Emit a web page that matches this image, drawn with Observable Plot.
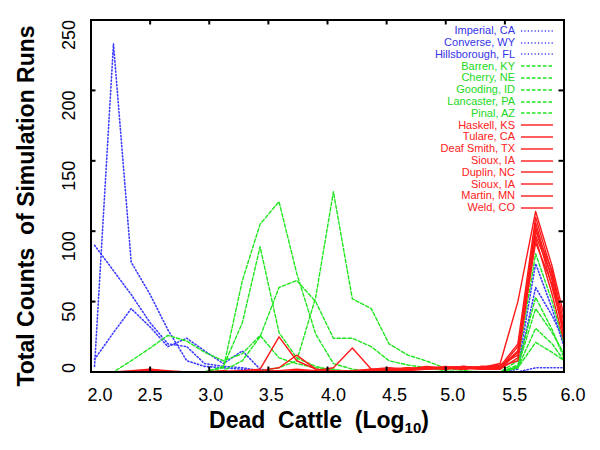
<!DOCTYPE html>
<html>
<head>
<meta charset="utf-8">
<script src="https://cdn.jsdelivr.net/npm/d3@7"></script>
<script src="https://cdn.jsdelivr.net/npm/@observablehq/plot@0.6"></script>
<style>
  html, body { margin: 0; padding: 0; background: #fff; }
  #wrap { position: relative; width: 600px; height: 450px; font-family: "Liberation Sans", Arial, sans-serif; }
  #xtitle { position: absolute; left: 0; width: 638px; top: 407px; text-align: center; font-weight: bold; font-size: 23px; white-space: pre; color: #000; }
  #xtitle sub { font-size: 15px; vertical-align: -5px; line-height: 0; }
  .lg { position: absolute; font-size: 11px; white-space: pre; line-height: 12px; }
</style>
</head>
<body>
<div id="wrap"></div>
<script>
// ---- data ----
const xs = [2.03, 2.19, 2.34, 2.50, 2.65, 2.81, 2.96, 3.12, 3.28, 3.43, 3.59, 3.74, 3.90, 4.05, 4.21, 4.37, 4.52, 4.68, 4.83, 4.99, 5.15, 5.30, 5.46, 5.61, 5.76, 5.90, 6.00];
const xTicks = [2.0, 2.5, 3.0, 3.5, 4.0, 4.5, 5.0, 5.5, 6.0];
const yTicks = [0, 50, 100, 150, 200, 250];
const countyNames = ["Imperial, CA", "Converse, WY", "Hillsborough, FL", "Barren, KY", "Cherry, NE", "Gooding, ID", "Lancaster, PA", "Pinal, AZ", "Haskell, KS", "Tulare, CA", "Deaf Smith, TX", "Sioux, IA", "Duplin, NC", "Sioux, IA", "Martin, MN", "Weld, CO"];
const countyGroups = ["blue", "blue", "blue", "green", "green", "green", "green", "green", "red", "red", "red", "red", "red", "red", "red", "red"];

// blue (dotted)
const imperialCA     = [90, 72, 55, 35, 20, 18, 6, 4, 3, 1, 0, 0, 0, 0, 0, 0, 0, 0, 0, 0, 0, 0, 0, 2, 60, 40, 22];
const converseWY     = [4, 233, 78, 55, 30, 8, 4, 3, 2, 1, 0, 0, 0, 0, 0, 0, 0, 0, 0, 0, 0, 0, 0, 3, 77, 45, 18];
const hillsboroughFL = [9, 28, 45, 32, 18, 24, 15, 6, 15, 2, 0, 0, 0, 0, 0, 0, 0, 0, 0, 0, 0, 0, 0, 0, 3, 3, 3];
// green (dashed)
const barrenKY       = [0, 0, 0, 0, 0, 0, 0, 3, 65, 105, 121, 70, 27, 6, 2, 0, 0, 0, 0, 0, 0, 0, 0, 8, 84, 50, 20];
const cherryNE       = [0, 0, 0, 0, 0, 0, 0, 4, 35, 89, 28, 10, 4, 1, 0, 0, 0, 0, 0, 0, 0, 0, 0, 4, 45, 28, 13];
const goodingID      = [0, 0, 0, 0, 0, 0, 0, 0, 0, 1, 3, 8, 53, 128, 52, 45, 20, 12, 8, 3, 1, 0, 0, 5, 53, 30, 10];
const lancasterPA    = [0, 0, 0, 0, 0, 0, 0, 1, 8, 25, 60, 65, 50, 24, 24, 18, 8, 5, 3, 1, 0, 0, 0, 3, 21, 14, 8];
const pinalAZ        = [0, 0, 8, 17, 26, 22, 14, 8, 13, 26, 10, 6, 3, 2, 0, 0, 0, 0, 0, 0, 0, 0, 0, 3, 31, 20, 8];
// red (solid)
const haskellKS      = [0, 0, 1, 2, 1, 0, 0, 0, 1, 2, 25, 8, 2, 0, 1, 1, 2, 1, 3, 2, 4, 3, 6, 50, 114, 75, 40];
const tulareCA       = [0, 0, 0, 1, 0, 0, 0, 1, 0, 1, 3, 12, 2, 1, 0, 2, 1, 3, 2, 3, 2, 4, 4, 20, 110, 70, 30];
const deafSmithTX    = [0, 0, 0, 1, 0, 0, 0, 0, 1, 0, 1, 2, 1, 3, 17, 2, 1, 2, 3, 2, 3, 2, 3, 15, 106, 65, 25];
const siouxIA1       = [0, 0, 0, 2, 0, 0, 0, 0, 0, 1, 0, 1, 1, 0, 1, 2, 3, 2, 4, 3, 2, 3, 5, 12, 103, 60, 28];
const duplinNC       = [0, 0, 0, 1, 0, 0, 0, 0, 0, 0, 1, 0, 0, 1, 0, 1, 2, 3, 2, 4, 3, 2, 2, 10, 100, 72, 35];
const siouxIA2       = [0, 0, 0, 1, 0, 0, 0, 0, 0, 0, 0, 1, 0, 0, 1, 0, 1, 2, 3, 3, 4, 3, 3, 18, 97, 68, 25];
const martinMN       = [0, 0, 0, 1, 0, 0, 0, 0, 0, 0, 0, 0, 1, 0, 0, 1, 2, 1, 2, 3, 2, 4, 4, 8, 95, 55, 22];
const weldCO         = [0, 0, 0, 1, 0, 0, 0, 0, 0, 0, 0, 0, 0, 1, 0, 0, 1, 2, 2, 3, 4, 3, 2, 14, 92, 62, 30];

const seriesValues = [imperialCA, converseWY, hillsboroughFL, barrenKY, cherryNE, goodingID, lancasterPA, pinalAZ,
  haskellKS, tulareCA, deafSmithTX, siouxIA1, duplinNC, siouxIA2, martinMN, weldCO];

// ---- styles ----
const style = {
  blue:  {stroke: "#3c3cff", strokeDasharray: "1.2,2.2", strokeWidth: 1.6, text: "#3434e8"},
  green: {stroke: "#1fe61f", strokeDasharray: "3.5,2", strokeWidth: 1.4, text: "#22d822"},
  red:   {stroke: "#ff1a1a", strokeDasharray: null, strokeWidth: 1.4, text: "#ff2020"}
};
const xLabelNudge = [9, 0, 1.5, 3, 6, 8, 7, 10, 9];

const rows = [];
seriesValues.forEach((vals, s) => vals.forEach((v, i) => rows.push({x: xs[i], y: v, id: s, name: countyNames[s], group: countyGroups[s]})));

const W = 600, H = 450, mL = 90.5, mR = 36.5, mT = 19.5, mB = 78.5;
const innerW = W - mL - mR, innerH = H - mT - mB;

const lineMarks = ["blue", "green", "red"].map(g => Plot.line(rows.filter(r => r.group === g), {
  x: "x", y: "y", z: "id", stroke: style[g].stroke, strokeWidth: style[g].strokeWidth,
  strokeDasharray: style[g].strokeDasharray, clip: true, strokeLinejoin: "round"
}));

const chart = Plot.plot({
  width: W, height: H,
  marginLeft: mL, marginRight: mR, marginTop: mT, marginBottom: mB,
  style: {fontFamily: "'Liberation Sans', Arial, sans-serif", background: "white", overflow: "visible"},
  x: {domain: [2, 6], axis: null},
  y: {domain: [0, 250], axis: null},
  marks: [
    ...lineMarks,
    Plot.frame({stroke: "black", strokeWidth: 2}),
    Plot.tickX(xTicks, {x: d => d, insetTop: innerH - 5, stroke: "black", strokeWidth: 2}),
    Plot.tickX(xTicks, {x: d => d, insetBottom: innerH - 5, stroke: "black", strokeWidth: 2}),
    Plot.tickY(yTicks, {y: d => d, insetRight: innerW - 5, stroke: "black", strokeWidth: 2}),
    Plot.tickY(yTicks, {y: d => d, insetLeft: innerW - 5, stroke: "black", strokeWidth: 2}),
    ...xTicks.map((t, i) => Plot.text([t], {x: d => d, text: d => d.toFixed(1), frameAnchor: "bottom",
      lineAnchor: "top", dy: 16.5, dx: xLabelNudge[i], fontSize: 18, fill: "black"})),
    Plot.text(yTicks.filter(v => v > 0), {y: d => d, text: d => String(d), frameAnchor: "left", dx: -22,
      rotate: -90, textAnchor: "end", lineAnchor: "middle", fontSize: 18, fill: "black"}),
    Plot.text(yTicks.filter(v => v === 0), {y: d => d, text: d => String(d), frameAnchor: "left", dx: -22, dy: -4,
      rotate: -90, textAnchor: "middle", lineAnchor: "middle", fontSize: 18, fill: "black"}),
    Plot.text(["Total Counts \u00a0of Simulation Runs"], {frameAnchor: "left", dx: -64, dy: 10, rotate: -90,
      textAnchor: "middle", fontSize: 23, fontWeight: "bold", fill: "black", lineAnchor: "middle"})
  ]
});

const wrap = document.getElementById("wrap");
wrap.appendChild(chart);

// x-axis title with subscript
const xt = document.createElement("div");
xt.id = "xtitle";
xt.innerHTML = "Dead \u00a0Cattle \u00a0(Log<sub>10</sub>)";
wrap.appendChild(xt);

// legend (gnuplot-style key, inside top right)
countyNames.forEach((n, i) => {
  const g = countyGroups[i];
  const cy = 30.7 + i * 11.8;
  const t = document.createElement("div");
  t.className = "lg";
  t.textContent = n;
  t.style.color = style[g].text;
  t.style.right = (600 - 515) + "px";
  t.style.top = (cy - 6.5) + "px";
  wrap.appendChild(t);
  const svg = d3.select(wrap).append("svg")
    .style("position", "absolute").style("left", "519px").style("top", (cy - 3) + "px")
    .attr("width", 36).attr("height", 6);
  svg.append("line").attr("x1", 2).attr("x2", 34).attr("y1", 3).attr("y2", 3)
    .attr("stroke", style[g].stroke).attr("stroke-width", style[g].strokeWidth)
    .attr("stroke-dasharray", style[g].strokeDasharray);
});
</script>
</body>
</html>
